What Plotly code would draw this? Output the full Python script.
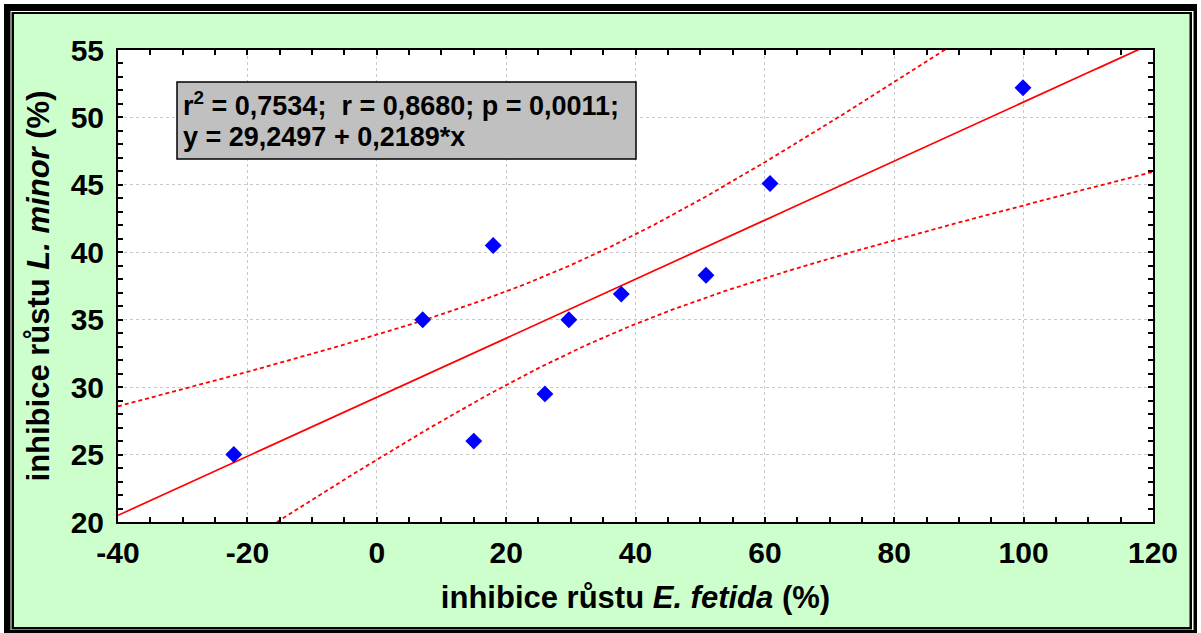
import numpy as np
import plotly.graph_objects as go

# ---- data ----
x_vals = [-22.1, 7.1, 15.0, 18.0, 26.0, 29.7, 37.8, 50.9, 60.8, 99.9]
y_vals = [25.0, 35.0, 26.0, 40.5, 29.5, 35.0, 36.9, 38.3, 45.1, 52.2]
intercept = 29.2497
slope = 0.2189
stats_line1 = "r<sup>2</sup> = 0,7534;  r = 0,8680; p = 0,0011;"
stats_line2 = "y = 29,2497 + 0,2189*x"
x_ticks = [-40, -20, 0, 20, 40, 60, 80, 100, 120]
x_tick_labels = ["-40", "-20", "0", "20", "40", "60", "80", "100", "120"]
y_ticks = [20, 25, 30, 35, 40, 45, 50, 55]
y_tick_labels = ["20", "25", "30", "35", "40", "45", "50", "55"]
x_title = "inhibice růstu <i>E. fetida</i> (%)"
y_title = "inhibice růstu <i>L. minor</i> (%)"
t_crit = 2.306  # t(0.975, df=8)

# ---- derived regression line and 95% confidence band ----
xa = np.array(x_vals)
ya = np.array(y_vals)
n = len(xa)
xs = np.linspace(x_ticks[0], x_ticks[-1], 321)
yhat = intercept + slope * xs
res = ya - (intercept + slope * xa)
s = np.sqrt(np.sum(res ** 2) / (n - 2))
sxx = np.sum((xa - xa.mean()) ** 2)
se = s * np.sqrt(1.0 / n + (xs - xa.mean()) ** 2 / sxx)
upper = yhat + t_crit * se
lower = yhat - t_crit * se

# ---- layout geometry (pixels) ----
W, H = 1201, 633
L, R, T, B = 118, 1153, 50, 522
pw, ph = R - L, B - T


def px(xp):
    return (xp - L) / pw


def py(yp):
    return (B - yp) / ph


FONT = "Liberation Sans, Arial, sans-serif"
red = "#FF0000"

fig = go.Figure()
fig.add_trace(go.Scatter(x=xs, y=upper, mode="lines",
                         line=dict(color=red, width=1.8, dash="4px,3px"), hoverinfo="skip"))
fig.add_trace(go.Scatter(x=xs, y=lower, mode="lines",
                         line=dict(color=red, width=1.8, dash="4px,3px"), hoverinfo="skip"))
fig.add_trace(go.Scatter(x=xs, y=yhat, mode="lines",
                         line=dict(color=red, width=1.7), hoverinfo="skip"))
fig.add_trace(go.Scatter(x=x_vals, y=y_vals, mode="markers",
                         marker=dict(symbol="diamond", size=13, color="#0000FF",
                                     line=dict(width=0))))

shapes = [
    dict(type="rect", xref="paper", yref="paper", x0=px(4), x1=px(1197), y0=py(640), y1=py(4),
         fillcolor="black", line=dict(width=0), layer="below"),
    dict(type="rect", xref="paper", yref="paper", x0=px(10.5), x1=px(1193.5), y0=py(630), y1=py(11),
         fillcolor="white", line=dict(width=0), layer="below"),
    dict(type="rect", xref="paper", yref="paper", x0=px(11.5), x1=px(1192), y0=py(629.5), y1=py(12),
         fillcolor="black", line=dict(width=0), layer="below"),
    dict(type="rect", xref="paper", yref="paper", x0=px(14), x1=px(1189.5), y0=py(627), y1=py(14),
         fillcolor="#CCFFCC", line=dict(width=0), layer="below"),
    dict(type="rect", xref="paper", yref="paper", x0=0, x1=1, y0=0, y1=1,
         fillcolor="white", line=dict(width=0), layer="below"),
    # statistics box
    dict(type="rect", xref="paper", yref="paper", x0=px(177), x1=px(636), y0=py(159), y1=py(82),
         fillcolor="#C0C0C0", line=dict(color="black", width=1.5), layer="above"),
]

annotations = [
    dict(xref="paper", yref="paper", x=px(181), y=py(104), xanchor="left", yanchor="middle",
         text="<b>" + stats_line1 + "</b>", showarrow=False,
         font=dict(family=FONT, size=27, color="black")),
    dict(xref="paper", yref="paper", x=px(181), y=py(137), xanchor="left", yanchor="middle",
         text="<b>" + stats_line2 + "</b>", showarrow=False,
         font=dict(family=FONT, size=27, color="black")),
]

axis_common = dict(
    showline=True, linecolor="black", linewidth=2, mirror="ticks",
    ticks="inside", ticklen=5, tickwidth=2, tickcolor="black",
    showgrid=True, gridcolor="#C8C8C8", gridwidth=1, griddash="dot",
    zeroline=False,
    tickfont=dict(family=FONT, size=30, color="black", weight="bold"),
)

fig.update_layout(
    width=W, height=H,
    margin=dict(l=L, r=W - R, t=T, b=H - B),
    paper_bgcolor="white", plot_bgcolor="white",
    showlegend=False,
    shapes=shapes, annotations=annotations,
    xaxis=dict(range=[x_ticks[0], x_ticks[-1]], tickvals=x_ticks, ticktext=x_tick_labels,
               minor=dict(dtick=5, ticks="inside", ticklen=5, tickwidth=2, tickcolor="black", showgrid=False),
               title=dict(text=x_title, standoff=18,
                          font=dict(family=FONT, size=31, color="black", weight="bold")),
               ticklabelstandoff=3,
               **axis_common),
    yaxis=dict(range=[y_ticks[0], y_ticks[-1]], tickvals=y_ticks, ticktext=y_tick_labels,
               minor=dict(dtick=1, ticks="inside", ticklen=5, tickwidth=2, tickcolor="black", showgrid=False),
               title=dict(text=y_title, standoff=12,
                          font=dict(family=FONT, size=31, color="black", weight="bold")),
               ticklabelstandoff=6,
               **axis_common),
)

fig.write_html("out.html")
